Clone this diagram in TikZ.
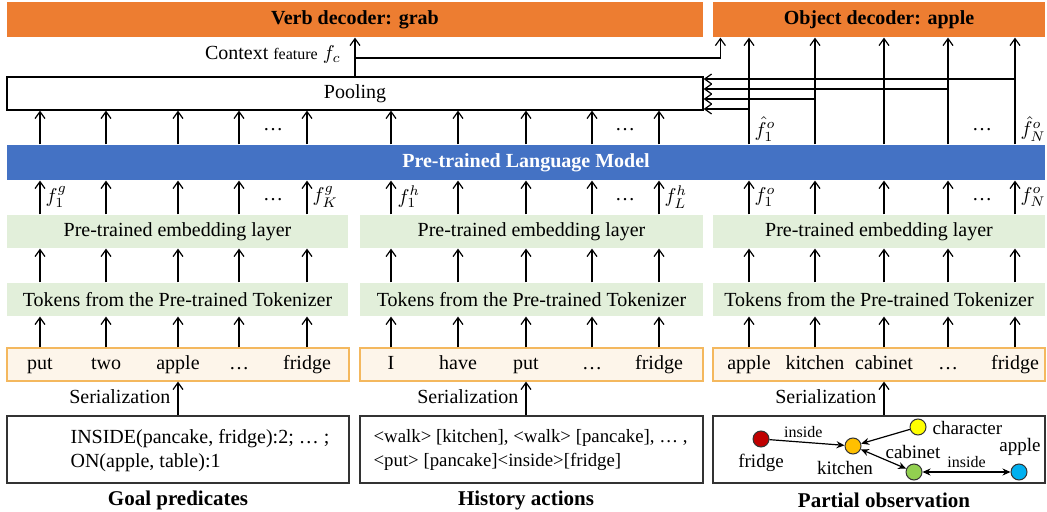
\documentclass[tikz,border=0pt]{standalone}
\usepackage{fontspec}
\setmainfont{Liberation Serif}
\usetikzlibrary{arrows.meta}
\definecolor{decorange}{HTML}{ED7D31}
\definecolor{lmblue}{HTML}{4472C4}
\definecolor{embgreen}{HTML}{E2EFDA}
\definecolor{tokfill}{HTML}{FDF5EA}
\definecolor{tokline}{HTML}{F4B85E}
\definecolor{nred}{HTML}{C00000}
\definecolor{norange}{HTML}{FFC000}
\definecolor{nyellow}{HTML}{FFFF00}
\definecolor{ngreen}{HTML}{92D050}
\definecolor{nblue}{HTML}{00B0F0}
\begin{document}
\begin{tikzpicture}[x=0.5pt, y=-0.5pt, line width=0.6pt,
    font=\fontsize{10}{12}\selectfont,
    >={Straight Barb[length=3.5pt,width=5pt]},
    decbox/.style={fill=decorange, inner sep=0, minimum height=17.5pt, font=\fontsize{10}{12}\selectfont\bfseries},
    embbox/.style={fill=embgreen, inner sep=0, minimum height=16.5pt},
    tokbox/.style={fill=tokfill, draw=tokline, inner sep=0, minimum height=16.5pt},
    tokword/.style={inner sep=0, text height=1.6ex, text depth=0.45ex},
    inbox/.style={draw=black!80, inner sep=0, minimum height=33.5pt},
    flabel/.style={anchor=west, inner sep=0.5pt},
    caption/.style={font=\fontsize{10.5}{12}\selectfont\bfseries},
    gnode/.style={circle, draw=black!80, line width=0.5pt, minimum size=8pt, inner sep=0},
    glabel/.style={inner sep=1pt, font=\fontsize{9.5}{11}\selectfont},
    elabel/.style={inner sep=1pt, font=\fontsize{8}{9}\selectfont},
    gar/.style={-{Stealth[length=4pt,width=3.5pt]}},
    gbi/.style={{Stealth[length=4pt,width=3.5pt]}-{Stealth[length=4pt,width=3.5pt]}}]
  \useasboundingbox (0,0) rectangle (1047,512);

  % decoders and pooling
  \node[decbox, minimum width=348pt] (verb) at (355,19.5) {Verb decoder: grab};
  \node[decbox, minimum width=166pt] (obj) at (879,19.5) {Object decoder: apple};
  \node[draw, inner sep=0, minimum width=348pt, minimum height=16.5pt] (pool) at (355,93.5) {Pooling};
  \node[fill=lmblue, inner sep=0, minimum width=519pt, minimum height=17.5pt,
    text=white, font=\fontsize{10}{12}\selectfont\bfseries] (lm) at (526,162.5) {Pre-trained Language Model};

  % three columns
  \node[embbox, minimum width=170.5pt] (embg) at (177.5,231.5) {Pre-trained embedding layer};
  \node[embbox, minimum width=171.5pt] (embh) at (531.5,231.5) {Pre-trained embedding layer};
  \node[embbox, minimum width=166pt] (embo) at (879,231.5) {Pre-trained embedding layer};
  \node[embbox, minimum width=170.5pt] (tkzg) at (177.5,299.5) {Tokens from the Pre-trained Tokenizer};
  \node[embbox, minimum width=171.5pt] (tkzh) at (531.5,299.5) {Tokens from the Pre-trained Tokenizer};
  \node[embbox, minimum width=166pt] (tkzo) at (879,299.5) {Tokens from the Pre-trained Tokenizer};
  \node[tokbox, minimum width=171pt] (tokg) at (178,364.5) {};
  \node[tokbox, minimum width=171.5pt] (tokh) at (531.5,364.5) {};
  \node[tokbox, minimum width=166pt] (toko) at (879,364.5) {};
  \node[inbox, minimum width=171pt] (ing) at (178,449.5) {};
  \node[inbox, minimum width=171.5pt] (inh) at (531.5,449.5) {};
  \node[inbox, minimum width=166pt] (ino) at (879,449.5) {};

  % tokens
  \foreach \w/\x [count=\i] in {put/40, two/106, apple/178, …/239, fridge/307}
    \node[tokword] (tg\i) at (\x,364.5) {\w};
  \foreach \w/\x [count=\i] in {I/391, have/458, put/526, …/592, fridge/659}
    \node[tokword] (th\i) at (\x,364.5) {\w};
  \foreach \w/\x [count=\i] in {apple/749, kitchen/815, cabinet/884, …/948, fridge/1015}
    \node[tokword] (to\i) at (\x,364.5) {\w};

  % vertical arrows
  \foreach \c in {g,h,o}
    \foreach \i in {1,...,5} {
      \draw[->] (tok\c.north -| t\c\i) -- (tkz\c.south -| t\c\i);
      \draw[->] (tkz\c.north -| t\c\i) -- (emb\c.south -| t\c\i);
      \draw[->] (emb\c.north -| t\c\i) -- (lm.south -| t\c\i);
    }
  \foreach \c in {g,h}
    \foreach \i in {1,...,5}
      \draw[->] (lm.north -| t\c\i) -- (pool.south -| t\c\i);
  \foreach \i in {1,...,5}
    \draw[->] (lm.north -| to\i) -- (obj.south -| to\i);

  % object features into pooling
  \draw[->] (to5 |- 0,79) -- (pool.east |- 0,79);
  \draw[->] (to4 |- 0,89) -- (pool.east |- 0,89);
  \draw[->] (to2 |- 0,99) -- (pool.east |- 0,99);
  \draw[->] (to1 |- 0,109) -- (pool.east |- 0,109);

  % context feature
  \draw[->] (pool.north) -- (verb.south);
  \draw[->] (pool.north |- 0,58) -| ([xshift=4pt]obj.south west);
  \node[anchor=east] (ctx) at (348,55) {Context {\fontsize{8}{9}\selectfont feature} $f_c$};

  % feature labels
  \node[flabel] (fg1) at (44,197) {$f_1^g$};
  \node (dg) at (273,200) {…};
  \node[flabel] (fgk) at (311,197) {$f_K^g$};
  \node[flabel] (fh1) at (396,197) {$f_1^h$};
  \node (dh) at (625,200) {…};
  \node[flabel] (fhl) at (663,197) {$f_L^h$};
  \node[flabel] (fo1) at (753,197) {$f_1^o$};
  \node (do) at (982,200) {…};
  \node[flabel] (fon) at (1019,197) {$f_N^o$};
  \node (ug) at (273,130) {…};
  \node (uh) at (625,130) {…};
  \node[flabel] (uo1) at (753,129) {$\hat f_1^o$};
  \node (uo) at (982,130) {…};
  \node[flabel] (uon) at (1019,129) {$\hat f_N^o$};

  % serialization
  \draw[->] (ing.north -| tg3) -- (tokg.south -| tg3);
  \draw[->] (inh.north -| th3) -- (tokh.south -| th3);
  \draw[->] (ino.north -| to3) -- (toko.south -| to3);
  \node[anchor=east, inner sep=1pt] (sg) at (173,397) {Serialization};
  \node[anchor=east, inner sep=1pt] (sh) at (521,397) {Serialization};
  \node[anchor=east, inner sep=1pt] (so) at (879,397) {Serialization};

  % inputs
  \node[anchor=west, align=left, inner sep=0] (txg) at (70,450.5)
    {INSIDE(pancake, fridge):2; … ;\\ON(apple, table):1};
  \node[anchor=west, align=left, inner sep=0, font=\fontsize{9.4}{12}\selectfont] (txh) at (373,450.5)
    {<walk> [kitchen], <walk> [pancake], … ,\\<put> [pancake]<inside>[fridge]};

  % scene graph
  \node[gnode, fill=nred] (nfr) at (761,439) {};
  \node[gnode, fill=norange] (nki) at (853,446) {};
  \node[gnode, fill=nyellow] (nch) at (918,427) {};
  \node[gnode, fill=ngreen] (nca) at (914,472) {};
  \node[gnode, fill=nblue] (nap) at (1019,472) {};
  \node[glabel] (lfr) at (761,463) {fridge};
  \node[glabel] (lki) at (845,468) {kitchen};
  \node[glabel, anchor=west] (lch) at (930,428) {character};
  \node[glabel] (lca) at (913,452) {cabinet};
  \node[glabel] (lap) at (1020,447) {apple};
  \draw[gar] (nfr) -- (nki) node[elabel, pos=0.45, above=1pt] {inside};
  \draw[gar] (nch) -- (nki);
  \draw[gbi] (nki) -- (nca);
  \draw[gbi] (nca) -- (nap) node[elabel, midway, above=1pt] {inside};

  % captions
  \node[caption] (capg) at (178,500) {Goal predicates};
  \node[caption] (caph) at (526,500) {History actions};
  \node[caption] (capo) at (884,500) {Partial observation};
\end{tikzpicture}
\end{document}
